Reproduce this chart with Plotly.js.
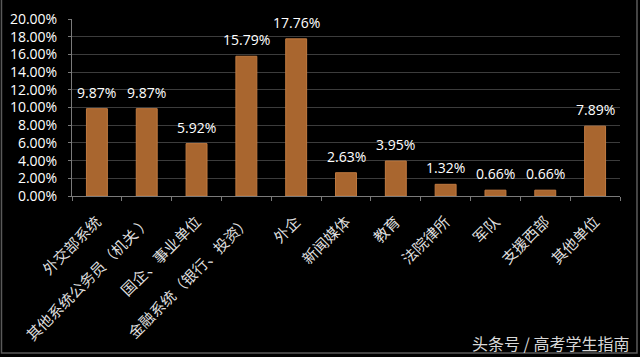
<!DOCTYPE html>
<html><head><meta charset="utf-8">
<script src="https://cdn.plot.ly/plotly-3.0.1.min.js"></script>
<style>html,body{margin:0;padding:0;background:#000;}#chart{width:640px;height:357px;}</style>
</head><body><div id="chart"></div>
<script>
const categories = ["外交部系统","其他系统公务员（机关 ）","国企、事业单位","金融系统（银行、投资）","外企","新闻媒体","教育","法院律所","军队","支援西部","其他单位"];
const values = [9.87, 9.87, 5.92, 15.79, 17.76, 2.63, 3.95, 1.32, 0.66, 0.66, 7.89];
const yTicks = [0,2,4,6,8,10,12,14,16,18,20];

const trace = {
  type: 'bar', x: categories, y: values,
  marker: {color: '#a9662f', line: {color: '#c07a40', width: 1}},
  width: 0.42,
  hoverinfo: 'none'
};
const labels = categories.map((c, i) => ({
  x: c, y: values[i], xref: 'x', yref: 'y',
  text: values[i].toFixed(2) + '%', showarrow: false,
  yanchor: 'bottom', yshift: 5,
  font: {color: '#ffffff', size: 14, family: 'Open Sans, sans-serif'}
}));
const layout = {
  width: 640, height: 357,
  paper_bgcolor: '#000', plot_bgcolor: '#000',
  margin: {l: 72, r: 20, t: 19, b: 161},
  showlegend: false,
  xaxis: {
    tickangle: -45, tickfont: {color: '#dedede', size: 15, family: 'Noto Sans CJK SC'},
    ticklabelstandoff: 10,
    showline: true, linecolor: '#7a7a7a', ticks: 'outside', tickson: 'boundaries',
    ticklen: 4, tickcolor: '#7a7a7a', showgrid: false
  },
  yaxis: {
    range: [0, 20], tickvals: yTicks, ticktext: yTicks.map(v => v.toFixed(2) + '%'),
    tickfont: {color: '#ffffff', size: 14, family: 'Open Sans, sans-serif'},
    ticklabelstandoff: 8,
    showline: true, linecolor: '#7a7a7a', gridcolor: '#3c3c3c', gridwidth: 1,
    ticks: 'outside', ticklen: 3, tickcolor: '#7a7a7a', zeroline: false
  },
  shapes: [{
    type: 'path', xref: 'paper', yref: 'paper',
    path: 'M -0.1287,1.107 L -0.1287,-0.887 L 1.031,-0.887 L 1.031,1.107',
    line: {color: '#5a5a5a', width: 1.5}
  }],
  annotations: labels.concat([{
    text: '头条号 / 高考学生指南', xref: 'paper', yref: 'paper', x: 1.02, y: -0.83,
    xanchor: 'right', yanchor: 'middle', showarrow: false,
    font: {color: '#d8d8d8', size: 16, family: 'Noto Sans CJK SC'}
  }])
};
Plotly.newPlot('chart', [trace], layout, {staticPlot: true});
</script></body></html>
